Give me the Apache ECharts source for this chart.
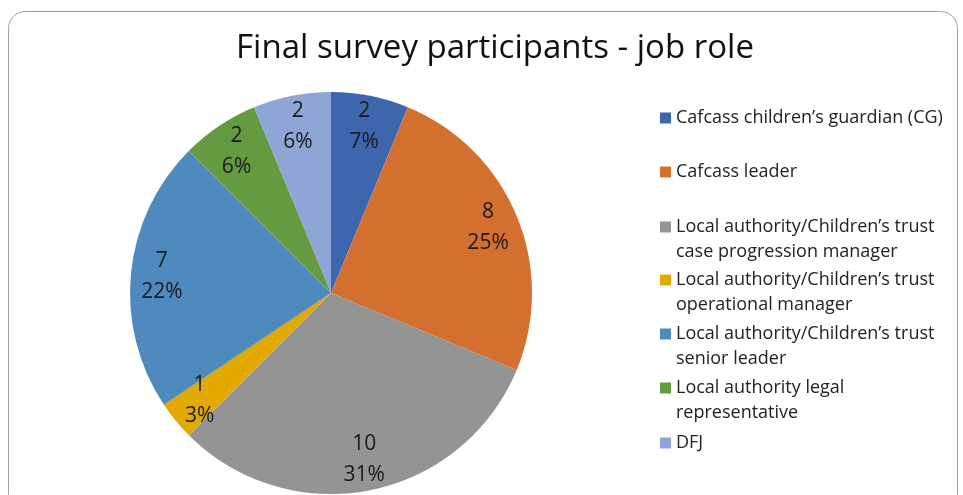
<!DOCTYPE html>
<html>
<head>
<meta charset="utf-8">
<script src="https://cdn.jsdelivr.net/npm/echarts@6/dist/echarts.min.js"></script>
<style>
html,body{margin:0;padding:0;background:#fff;}
#chart{width:963px;height:495px;}
</style>
</head>
<body>
<div id="chart"></div>
<script>
const titleText = 'Final survey participants - job role';
const categories = [
  'Cafcass children\u2019s guardian (CG)',
  'Cafcass leader',
  'Local authority/Children\u2019s trust\ncase progression manager',
  'Local authority/Children\u2019s trust\noperational manager',
  'Local authority/Children\u2019s trust\nsenior leader',
  'Local authority legal\nrepresentative',
  'DFJ'
];
const values = [2, 8, 10, 1, 7, 2, 2];
const colors = ['#3D66AF', '#D4702F', '#949494', '#E2AA00', '#4F8ABE', '#659B40', '#8EA5D5'];
const legendLineCenters = [118, 172, 227, 280, 334, 388, 443];

const FONT = '"Open Sans", sans-serif';
const chart = echarts.init(document.getElementById('chart'), null, {renderer: 'canvas'});

const pieData = categories.map((c, i) => ({name: c, value: values[i], itemStyle: {color: colors[i]}}));

const legends = categories.map((c, i) => {
  const multi = c.indexOf('\n') >= 0;
  const lh = 25;
  return {
    data: [c],
    orient: 'vertical',
    left: 660,
    top: multi ? legendLineCenters[i] - lh * 1.5 : legendLineCenters[i] - lh / 2,
    padding: 0,
    itemWidth: 11,
    itemHeight: 11,
    icon: 'rect',
    selectedMode: false,
    formatter: multi ? (n => ' \n' + n) : (n => n),
    textStyle: {fontFamily: FONT, fontSize: 18, color: '#222', lineHeight: lh}
  };
});

chart.setOption({
  animation: false,
  title: {
    text: titleText,
    left: 490,
    textAlign: 'center',
    top: 27,
    textStyle: {fontFamily: FONT, fontSize: 33, fontWeight: 'normal', color: '#111'}
  },
  graphic: [{
    type: 'rect',
    shape: {x: 8.5, y: 11.5, width: 949, height: 500, r: 17},
    style: {fill: 'none', stroke: '#a0a0a0', lineWidth: 1},
    silent: true,
    z: -10
  }],
  legend: legends,
  series: [
    {
      type: 'pie',
      center: [331, 293],
      radius: 201,
      startAngle: 90,
      clockwise: true,
      silent: true,
      percentPrecision: 0,
      label: {show: false},
      labelLine: {show: false},
      itemStyle: {borderColor: '#fff', borderWidth: 0},
      data: pieData
    },
    {
      type: 'pie',
      center: [331, 293],
      radius: 334,
      startAngle: 90,
      clockwise: true,
      silent: true,
      percentPrecision: 0,
      avoidLabelOverlap: false,
      itemStyle: {color: 'rgba(0,0,0,0)'},
      emphasis: {disabled: true},
      label: {
        show: true,
        position: 'inside',
        formatter: '{c}\n{d}%',
        fontFamily: FONT,
        fontSize: 21,
        lineHeight: 31,
        color: '#1a1a1a'
      },
      labelLine: {show: false},
      data: categories.map((c, i) => ({name: c, value: values[i], itemStyle: {color: 'rgba(0,0,0,0)'}}))
    }
  ]
});
</script>
</body>
</html>
